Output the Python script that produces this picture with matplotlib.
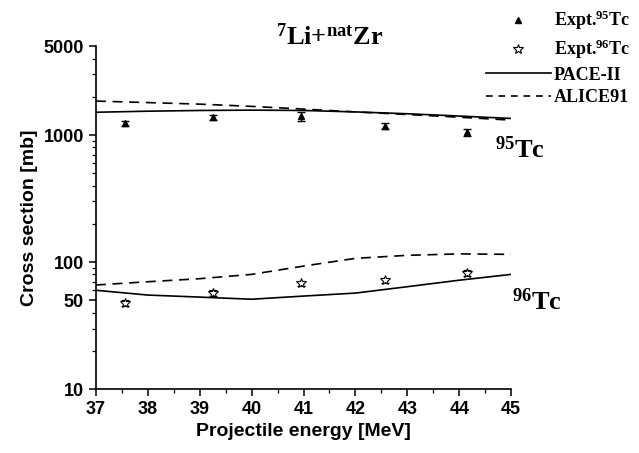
import numpy as np
import matplotlib
matplotlib.use("Agg")
from matplotlib import pyplot as plt
from matplotlib.lines import Line2D
from matplotlib.ticker import FixedLocator, NullFormatter, MultipleLocator, LogLocator

# experimental points
expt_E = [37.56, 39.26, 40.95, 42.57, 44.15]
tc95_expt = [1240, 1380, 1400, 1180, 1050]
tc95_err = [60, 70, 120, 60, 60]
tc96_expt = [47.5, 57, 68, 72, 82]
tc96_err = [2.5, 3, 3, 3.5, 5]

# model calculations
model_E = [37, 38, 39, 40, 41, 42, 43, 44, 45]
tc95_pace = [1510, 1540, 1560, 1570, 1560, 1520, 1470, 1410, 1350]
tc95_alice = [1850, 1800, 1750, 1680, 1600, 1520, 1450, 1380, 1310]
tc96_pace = [60, 55, 53, 51, 54, 57, 64, 72, 80]
tc96_alice = [66, 70, 74, 80, 93, 107, 113, 116, 115]

plt.rcParams["mathtext.fontset"] = "custom"
plt.rcParams["mathtext.rm"] = "Liberation Serif:bold"
plt.rcParams["mathtext.it"] = "Liberation Serif:bold"
plt.rcParams["mathtext.bf"] = "Liberation Serif:bold"

serif = ["Liberation Serif", "DejaVu Serif"]
sans = ["Liberation Sans", "DejaVu Sans"]

fig = plt.figure(figsize=(6.39, 4.53), dpi=100)
ax = fig.add_axes([0.150, 0.141, 0.650, 0.757])

ax.plot(model_E, tc95_pace, "k-", lw=1.2)
ax.plot(model_E, tc95_alice, "k--", lw=1.2, dashes=(6, 4))
ax.plot(model_E, tc96_pace, "k-", lw=1.2)
ax.plot(model_E, tc96_alice, "k--", lw=1.2, dashes=(6, 4))

ax.errorbar(expt_E, tc95_expt, yerr=tc95_err, fmt="^", color="k", ms=5,
            elinewidth=0.8, capsize=3)
ax.errorbar(expt_E, tc96_expt, yerr=tc96_err, fmt="*", color="k", mfc="white",
            mew=0.8, ms=7, elinewidth=0.8, capsize=3)

ax.set_yscale("log")
ax.set_xlim(37, 45)
ax.set_ylim(10, 5000)
ax.yaxis.set_major_locator(FixedLocator([10, 50, 100, 1000, 5000]))
ax.yaxis.set_minor_locator(LogLocator(base=10, subs=np.arange(2, 10)))
ax.yaxis.set_minor_formatter(NullFormatter())
ax.set_yticklabels(["10", "50", "100", "1000", "5000"])
ax.xaxis.set_major_locator(MultipleLocator(1))
ax.xaxis.set_minor_locator(MultipleLocator(0.5))

ax.spines["top"].set_visible(False)
ax.spines["right"].set_visible(False)
for s in ["left", "bottom"]:
    ax.spines[s].set_linewidth(1.2)
ax.tick_params(which="major", direction="out", length=5, width=1.1)
ax.tick_params(which="minor", direction="out", length=3, width=0.9)
for lab in ax.get_xticklabels() + ax.get_yticklabels():
    lab.set_family(sans)
    lab.set_fontweight("bold")
    lab.set_fontsize(13)

ax.set_xlabel("Projectile energy [MeV]", family=sans, fontweight="bold", fontsize=14)
ax.set_ylabel("Cross section [mb]", family=sans, fontweight="bold", fontsize=14)

fig.text(0.515, 0.901, r"$^{7}$Li+$^{\mathrm{nat}}$Zr", family=serif, fontweight="bold",
         fontsize=19, ha="center", va="baseline")
ax.text(44.69, 656, "$^{95}$Tc", family=serif, fontweight="bold", fontsize=19,
        va="baseline", clip_on=False)
ax.text(45.02, 41.9, "$^{96}$Tc", family=serif, fontweight="bold", fontsize=19,
        va="baseline", clip_on=False)

handles = [
    Line2D([], [], ls="none", marker="^", color="k", ms=5),
    Line2D([], [], ls="none", marker="*", color="k", mfc="white", mew=0.8, ms=7),
    Line2D([], [], ls="-", color="k", lw=1.2),
    Line2D([], [], ls="--", color="k", lw=1.2, dashes=(4, 3.5)),
]
labels = ["Expt.$^{95}$Tc", "Expt.$^{96}$Tc", "PACE-II", "ALICE91"]
fig.legend(handles, labels, loc="upper right", bbox_to_anchor=(1.0, 1.0), frameon=False,
           prop={"family": serif, "weight": "bold", "size": 13},
           handlelength=3.6, handletextpad=0.15, labelspacing=0.3, borderaxespad=0.1)

fig.savefig("out.png", dpi=100)
